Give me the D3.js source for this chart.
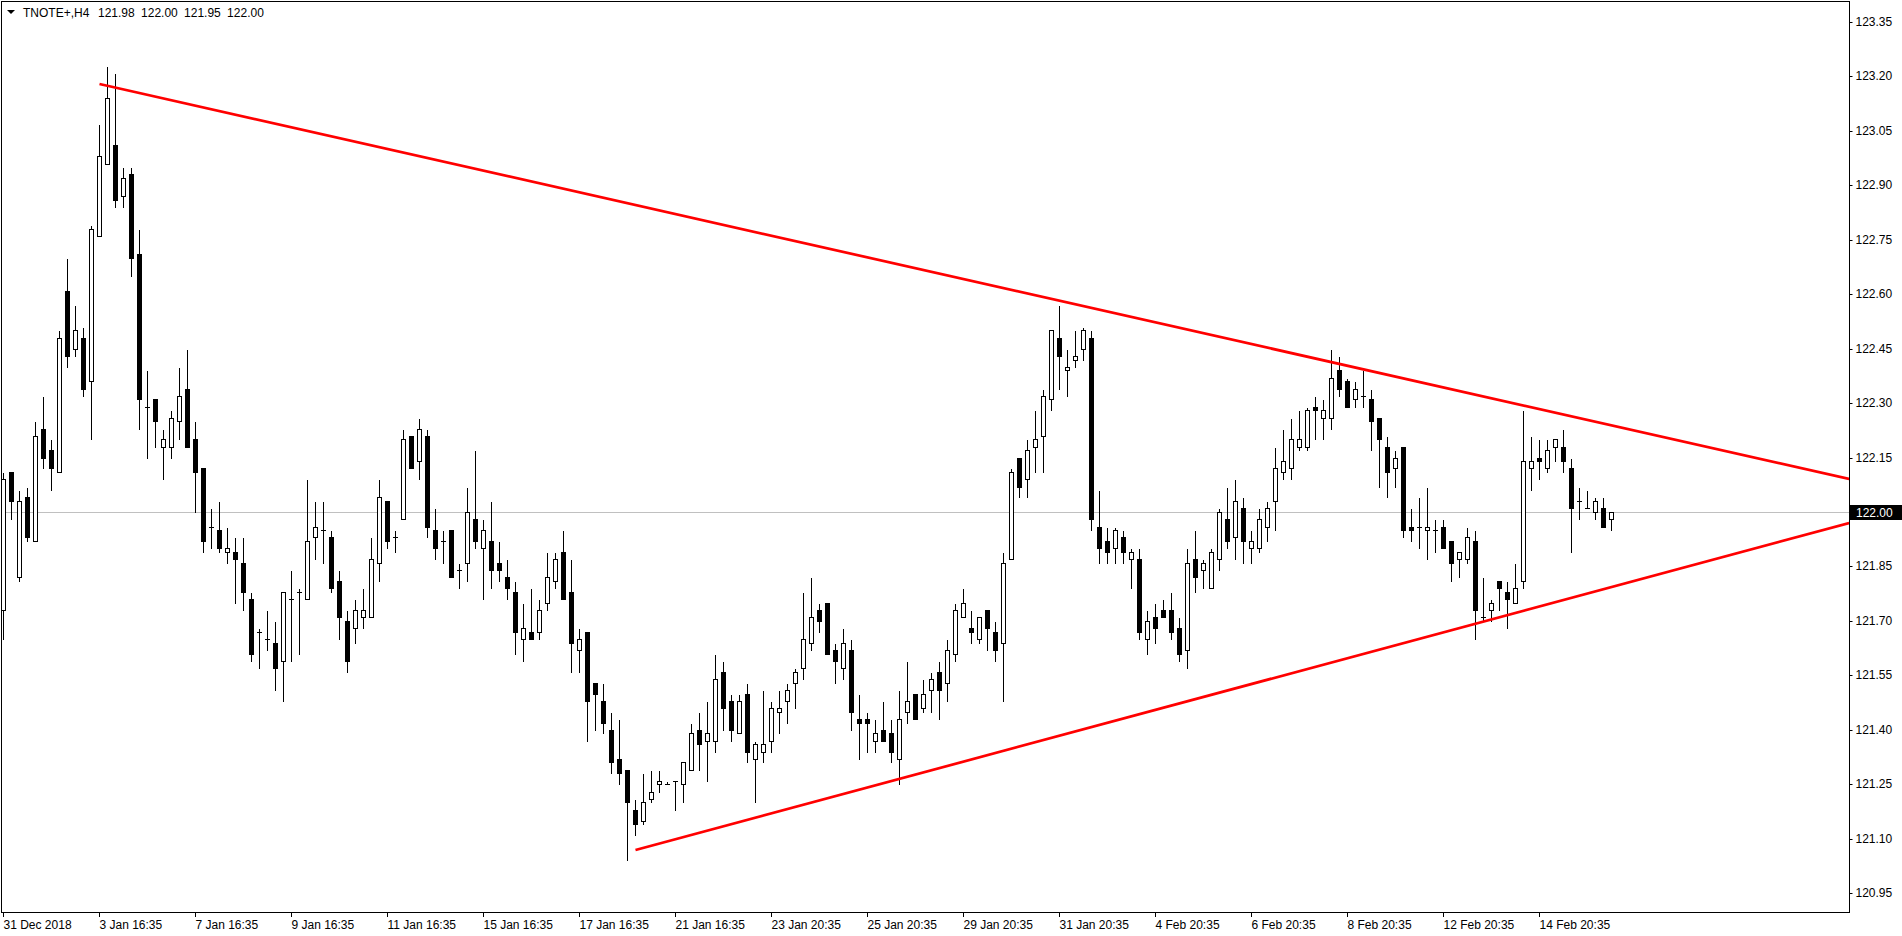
<!DOCTYPE html>
<html><head><meta charset="utf-8">
<script src="https://cdn.jsdelivr.net/npm/d3@7"></script>
<style>
html,body{margin:0;padding:0;background:#fff;overflow:hidden;}
svg{display:block;}
text{font-family:"Liberation Sans",Arial,sans-serif;}
</style>
</head><body>
<svg id="chart" width="1902" height="936"></svg>
<script>
// ---------- DATA ----------
const symbolTitle = "TNOTE+,H4";
const titleValues = "121.98 122.00 121.95 122.00";

const opens = [121.73,122.11,121.82,122.04,121.92,122.23,122.17,122.11,122.61,122.45,
122.48,122.36,122.76,122.96,123.01,122.87,122.93,122.71,122.29,122.31,
122.18,122.18,122.25,122.34,122.20,122.12,121.96,121.95,121.89,121.89,
121.86,121.76,121.67,121.65,121.64,121.59,121.76,121.78,121.76,121.93,
121.95,121.93,121.81,121.70,121.68,121.71,121.71,121.86,122.03,121.93,
121.98,122.21,122.14,122.21,121.95,121.92,121.95,121.84,121.86,121.98,
121.90,121.92,121.86,121.82,121.78,121.65,121.67,121.67,121.75,121.81,
121.89,121.78,121.62,121.67,121.53,121.48,121.40,121.32,121.29,121.18,
121.15,121.21,121.25,121.25,121.26,121.25,121.29,121.40,121.37,121.37,
121.56,121.48,121.39,121.50,121.32,121.34,121.37,121.45,121.48,121.53,
121.57,121.64,121.73,121.75,121.62,121.57,121.62,121.43,121.43,121.37,
121.40,121.39,121.32,121.45,121.50,121.46,121.51,121.56,121.53,121.61,
121.71,121.68,121.65,121.73,121.67,121.64,121.87,122.15,122.09,122.18,
122.21,122.31,122.48,122.39,122.42,122.45,122.48,121.96,121.92,121.90,
121.93,121.87,121.87,121.65,121.71,121.73,121.73,121.68,121.62,121.87,
121.84,121.79,121.87,121.98,121.93,122.01,121.90,121.90,121.96,122.03,
122.11,122.12,122.18,122.18,122.29,122.26,122.26,122.39,122.36,122.31,
122.32,122.31,122.26,122.18,122.12,122.18,121.96,121.96,121.95,121.95,
121.96,121.92,121.87,121.87,121.92,121.71,121.73,121.81,121.78,121.75,
121.81,122.12,122.15,122.12,122.18,122.18,122.12,122.03,122.01,122.00,
122.01,121.98];
const highs = [122.11,122.11,122.06,122.07,122.25,122.32,122.20,122.50,122.70,122.57,
122.51,122.79,123.07,123.23,123.21,122.95,122.95,122.78,122.39,122.31,
122.23,122.28,122.40,122.45,122.25,122.12,122.01,122.03,121.96,121.93,
121.93,121.78,121.68,121.73,121.70,121.78,121.84,121.79,122.09,122.03,
122.03,121.95,121.84,121.73,121.76,121.79,121.93,122.09,122.03,121.95,
122.23,122.21,122.26,122.23,122.01,121.95,121.95,121.86,122.07,122.17,
121.98,122.03,121.92,121.87,121.81,121.75,121.79,121.76,121.89,121.89,
121.95,121.87,121.68,121.67,121.53,121.53,121.45,121.43,121.29,121.21,
121.28,121.29,121.29,121.26,121.26,121.31,121.42,121.45,121.48,121.61,
121.59,121.50,121.50,121.53,121.37,121.51,121.48,121.51,121.53,121.57,
121.78,121.82,121.75,121.75,121.64,121.68,121.65,121.50,121.45,121.43,
121.48,121.43,121.51,121.59,121.50,121.54,121.56,121.59,121.65,121.75,
121.79,121.73,121.71,121.73,121.70,121.89,122.12,122.15,122.20,122.28,
122.34,122.50,122.57,122.45,122.50,122.51,122.50,122.06,121.96,121.96,
121.95,121.90,121.90,121.73,121.75,121.76,121.78,121.71,121.90,121.95,
121.87,121.90,122.01,122.07,122.09,122.04,121.95,122.01,122.03,122.18,
122.23,122.26,122.28,122.29,122.32,122.31,122.45,122.43,122.37,122.36,
122.39,122.34,122.26,122.21,122.17,122.18,122.01,122.04,122.07,121.98,
121.98,121.92,121.89,121.96,121.95,121.82,121.76,121.81,121.81,121.86,
122.28,122.21,122.20,122.20,122.20,122.23,122.15,122.07,122.06,122.04,
122.04,122.00];
const lows = [121.65,121.98,121.81,121.92,121.92,122.12,122.06,122.11,122.40,122.43,
122.32,122.20,122.76,122.96,122.84,122.84,122.65,122.23,122.15,122.18,
122.09,122.15,122.20,122.18,122.00,121.89,121.90,121.89,121.86,121.75,
121.73,121.59,121.57,121.62,121.51,121.48,121.59,121.61,121.76,121.87,
121.86,121.78,121.65,121.56,121.64,121.68,121.71,121.81,121.90,121.89,
121.98,122.12,122.09,121.93,121.87,121.86,121.82,121.79,121.81,121.90,
121.76,121.79,121.81,121.76,121.61,121.59,121.65,121.65,121.73,121.79,
121.76,121.56,121.56,121.37,121.40,121.39,121.28,121.25,121.04,121.11,
121.14,121.20,121.23,121.25,121.18,121.20,121.29,121.29,121.26,121.34,
121.40,121.37,121.39,121.31,121.20,121.31,121.34,121.39,121.42,121.46,
121.54,121.62,121.67,121.61,121.53,121.54,121.40,121.32,121.34,121.34,
121.37,121.31,121.25,121.42,121.43,121.45,121.45,121.43,121.48,121.59,
121.71,121.64,121.64,121.62,121.59,121.48,121.87,122.04,122.04,122.11,
122.11,122.28,122.34,122.32,122.40,122.42,121.95,121.86,121.86,121.86,
121.86,121.79,121.65,121.61,121.64,121.71,121.65,121.59,121.57,121.78,
121.79,121.79,121.84,121.90,121.87,121.86,121.86,121.89,121.92,121.95,
122.09,122.09,122.17,122.17,122.20,122.20,122.23,122.32,122.29,122.29,
122.29,122.17,122.07,122.04,122.07,121.93,121.92,121.90,121.87,121.89,
121.90,121.81,121.82,121.86,121.65,121.70,121.70,121.73,121.68,121.75,
121.79,122.06,122.09,122.11,122.14,122.11,121.89,121.98,122.01,121.98,
121.96,121.95];
const closes = [122.09,122.03,122.03,121.93,122.21,122.15,122.12,122.48,122.43,122.50,
122.34,122.78,122.98,123.14,122.86,122.92,122.70,122.31,122.29,122.25,
122.20,122.26,122.32,122.18,122.11,121.92,121.96,121.90,121.90,121.87,
121.78,121.61,121.67,121.65,121.57,121.78,121.76,121.78,121.92,121.96,
121.95,121.79,121.71,121.59,121.73,121.73,121.87,122.04,121.92,121.93,
122.20,122.12,122.23,121.96,121.90,121.92,121.82,121.84,122.00,121.92,
121.95,121.84,121.84,121.79,121.67,121.68,121.65,121.73,121.82,121.87,
121.76,121.64,121.65,121.48,121.50,121.42,121.31,121.28,121.20,121.14,
121.20,121.23,121.26,121.25,121.26,121.31,121.39,121.36,121.39,121.54,
121.46,121.40,121.48,121.34,121.36,121.36,121.46,121.46,121.51,121.56,
121.65,121.71,121.70,121.61,121.59,121.64,121.45,121.42,121.42,121.39,
121.37,121.34,121.43,121.48,121.43,121.50,121.54,121.51,121.62,121.73,
121.75,121.67,121.71,121.68,121.62,121.86,122.11,122.07,122.17,122.20,
122.32,122.50,122.43,122.40,122.43,122.50,121.98,121.90,121.89,121.95,
121.89,121.89,121.67,121.70,121.68,121.71,121.67,121.61,121.86,121.82,
121.86,121.89,122.00,121.92,122.03,121.92,121.92,121.98,122.01,122.12,
122.14,122.20,122.20,122.28,122.28,122.28,122.37,122.34,122.29,122.34,
122.32,122.25,122.20,122.11,122.15,121.95,121.95,121.96,121.96,121.95,
121.90,121.86,121.89,121.93,121.73,121.71,121.75,121.79,121.76,121.79,
122.14,122.14,122.14,122.17,122.20,122.14,122.01,122.03,122.01,122.03,
121.96,122.00];

const xLabelBars = [0,12,24,36,48,60,72,84,96,108,120,132,144,156,168,180,192];
const xLabelTexts = ["31 Dec 2018","3 Jan 16:35","7 Jan 16:35","9 Jan 16:35","11 Jan 16:35",
  "15 Jan 16:35","17 Jan 16:35","21 Jan 16:35","23 Jan 20:35","25 Jan 20:35","29 Jan 20:35",
  "31 Jan 20:35","4 Feb 20:35","6 Feb 20:35","8 Feb 20:35","12 Feb 20:35","14 Feb 20:35"];
const yTickValues = [120.95,121.10,121.25,121.40,121.55,121.70,121.85,122.00,122.15,
  122.30,122.45,122.60,122.75,122.90,123.05,123.20,123.35];
const lastPrice = 122.00;
const upperTrendBars = [12, 230.7];
const upperTrendPrices = [123.18, 122.09];
const lowerTrendBars = [79, 230.7];
const lowerTrendPrices = [121.07, 121.97];

// ---------- CHART ----------
const W = 1902, H = 936;
const plotL = 2, plotR = 1849, plotT = 2, plotB = 912;
const svg = d3.select("#chart");
svg.append("rect").attr("width", W).attr("height", H).attr("fill", "#fff");

const x = d3.scaleLinear().domain([0, 230.7]).range([3.5, 3.5 + 8 * 230.7]);
const y = d3.scaleLinear().domain([120.95, 123.35]).range([893.15, 21.95])
  .interpolate(d3.interpolateRound);

const defs = svg.append("defs");
defs.append("clipPath").attr("id", "plotclip").append("rect")
  .attr("x", plotL).attr("y", plotT).attr("width", plotR - plotL).attr("height", plotB - plotT);

const plot = svg.append("g").attr("clip-path", "url(#plotclip)");

// current price line
plot.append("line")
  .attr("x1", plotL).attr("x2", plotR)
  .attr("y1", y(lastPrice) + 0.5).attr("y2", y(lastPrice) + 0.5)
  .attr("stroke", "#c0c0c0").attr("stroke-width", 1);

const bars = d3.range(opens.length).map(i => ({i, o: opens[i], h: highs[i], l: lows[i], c: closes[i]}));

const cg = plot.append("g").attr("shape-rendering", "crispEdges");
// wicks
cg.selectAll("line.wick").data(bars).join("line").attr("class", "wick")
  .attr("x1", d => x(d.i)).attr("x2", d => x(d.i))
  .attr("y1", d => y(d.h) + 0.5).attr("y2", d => y(d.l) + 1)
  .attr("stroke", "#000").attr("stroke-width", 1);
// bodies
cg.selectAll("rect.body").data(bars.filter(d => y(d.o) !== y(d.c))).join("rect").attr("class", "body")
  .attr("x", d => x(d.i) - 2)
  .attr("y", d => y(Math.max(d.o, d.c)) + 0.5)
  .attr("width", 4)
  .attr("height", d => Math.abs(y(d.o) - y(d.c)))
  .attr("fill", d => d.c > d.o ? "#fff" : "#000")
  .attr("stroke", "#000").attr("stroke-width", 1);
// dojis
cg.selectAll("line.doji").data(bars.filter(d => y(d.o) === y(d.c))).join("line").attr("class", "doji")
  .attr("x1", d => x(d.i) - 2.5).attr("x2", d => x(d.i) + 2.5)
  .attr("y1", d => y(d.o) + 0.5).attr("y2", d => y(d.o) + 0.5)
  .attr("stroke", "#000").attr("stroke-width", 1);

// trend lines
const tl = d3.line().x(d => x(d[0])).y(d => y(d[1]));
plot.append("path").datum(d3.zip(upperTrendBars, upperTrendPrices)).attr("d", tl)
  .attr("fill", "none").attr("stroke", "#ff0000").attr("stroke-width", 2.7);
plot.append("path").datum(d3.zip(lowerTrendBars, lowerTrendPrices)).attr("d", tl)
  .attr("fill", "none").attr("stroke", "#ff0000").attr("stroke-width", 2.7);

// frame
svg.append("rect").attr("x", 1.5).attr("y", 1.5).attr("width", plotR - 1).attr("height", plotB - 1)
  .attr("fill", "none").attr("stroke", "#000").attr("stroke-width", 1);

// right axis
const yAxis = d3.axisRight(y).tickValues(yTickValues).tickSize(3).tickPadding(3)
  .tickFormat(d3.format(".2f"));
const ya = svg.append("g").attr("transform", `translate(${plotR + 0.5},0)`).call(yAxis);
ya.select(".domain").remove();
ya.selectAll("text").attr("font-family", "Liberation Sans, Arial, sans-serif").attr("font-size", 12).attr("fill", "#000");
ya.selectAll("line").attr("stroke", "#000");

// last price box
svg.append("rect").attr("x", plotR + 1).attr("y", y(lastPrice) - 7).attr("width", W - plotR - 1).attr("height", 15).attr("fill", "#000");
svg.append("text").attr("x", plotR + 7).attr("y", y(lastPrice) + 0.5).attr("dy", "0.34em")
  .attr("font-size", 12).attr("fill", "#fff").text(d3.format(".2f")(lastPrice));

// bottom axis
const xAxis = d3.axisBottom(x).tickValues(xLabelBars).tickSize(4).tickPadding(3).offset(0)
  .tickFormat((d, k) => xLabelTexts[k]);
const xa = svg.append("g").attr("transform", `translate(0,${plotB + 1})`).call(xAxis);
xa.select(".domain").remove();
xa.selectAll("text").attr("text-anchor", "start").attr("font-family", "Liberation Sans, Arial, sans-serif").attr("font-size", 12).attr("fill", "#000");
xa.selectAll("line").attr("stroke", "#000");

// title
svg.append("path").attr("d", "M7,10 L15,10 L11,14 Z").attr("fill", "#000");
svg.append("text").attr("x", 23).attr("y", 16.5).attr("font-size", 12).attr("fill", "#000").text(symbolTitle);
svg.append("text").attr("x", 98).attr("y", 16.5).attr("font-size", 12).attr("fill", "#000")
  .attr("word-spacing", 3).text(titleValues);
</script>
</body></html>
